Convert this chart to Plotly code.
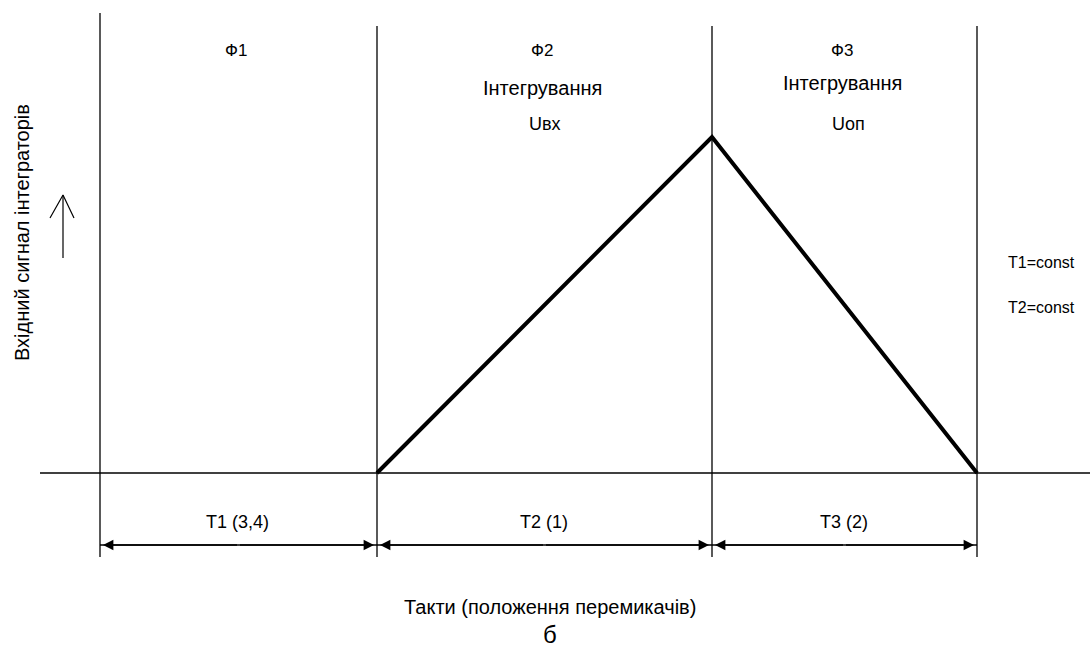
import plotly.graph_objects as go

# ---- data (time units: 1 unit = one scale division) ----
phase_bounds = [0.0, 2.77, 6.12, 8.77]          # boundaries of phases Ф1..Ф3
signal_t = [2.77, 6.12, 8.77]                    # integrator signal points
signal_v = [0.0, 3.36, 0.0]
phase_names = ["Ф1", "Ф2", "Ф3"]
phase_sub = ["", "Інтегрування", "Інтегрування"]
phase_sub2 = ["", "Uвх", "Uоп"]
tact_labels = ["T1 (3,4)", "T2 (1)", "T3 (2)"]
notes = ["T1=const", "T2=const"]

FONT = "Liberation Sans, Arial, sans-serif"
fig = go.Figure()

fig.add_trace(go.Scatter(x=signal_t, y=signal_v, mode="lines",
                         line=dict(color="black", width=4), hoverinfo="skip",
                         showlegend=False))

# arrow beside the vertical title (open arrowhead)
fig.add_trace(go.Scatter(x=[-0.37, -0.37, None, -0.50, -0.37, -0.26],
                         y=[2.15, 2.78, None, 2.55, 2.78, 2.55], mode="lines",
                         line=dict(color="black", width=1.2), hoverinfo="skip",
                         showlegend=False))

shapes = []
shapes.append(dict(type="line", x0=-0.60, x1=9.90, y0=0, y1=0,
                   line=dict(color="black", width=1.3)))
for i, b in enumerate(phase_bounds):
    top = 4.60 if i == 0 else 4.47
    shapes.append(dict(type="line", x0=b, x1=b, y0=top, y1=-0.84,
                       line=dict(color="black", width=1.3)))
shapes.append(dict(type="line", x0=phase_bounds[0], x1=phase_bounds[-1], y0=-0.72, y1=-0.72,
                   line=dict(color="black", width=1.3)))

ann = []
mids = [(phase_bounds[i] + phase_bounds[i + 1]) / 2 for i in range(3)]
sub_y = [0, 3.85, 3.90]
for i, m in enumerate(mids):
    ann.append(dict(x=m - 0.03, y=4.23, text=phase_names[i], showarrow=False,
                    font=dict(size=17, color="black", family=FONT)))
    if phase_sub[i]:
        ann.append(dict(x=m - 0.02, y=sub_y[i], text=phase_sub[i], showarrow=False,
                        font=dict(size=20, color="black", family=FONT)))
        ann.append(dict(x=m + (0.0 if i == 1 else 0.04), y=3.49, text=phase_sub2[i], showarrow=False,
                        font=dict(size=18, color="black", family=FONT)))
    ann.append(dict(x=m - 0.01, y=-0.49, text=tact_labels[i], showarrow=False,
                    font=dict(size=18, color="black", family=FONT)))
    for (tip, tail) in [(phase_bounds[i + 1] - 0.03, m), (phase_bounds[i] + 0.03, m)]:
        ann.append(dict(x=tip, y=-0.72, ax=tail, ay=-0.72, axref="x", ayref="y",
                        xref="x", yref="y", text="", showarrow=True,
                        arrowhead=2, arrowsize=1.6, arrowwidth=1.3, arrowcolor="black"))

for j, n in enumerate(notes):
    ann.append(dict(x=9.41, y=2.11 - 0.45 * j, text=n, showarrow=False,
                    font=dict(size=16, color="black", family=FONT)))

ann.append(dict(x=4.50, y=-1.34, text="Такти (положення перемикачів)", showarrow=False,
                font=dict(size=20, color="black", family=FONT)))
ann.append(dict(x=4.50, y=-1.61, text="б", showarrow=False,
                font=dict(size=24, color="black", family=FONT)))
ann.append(dict(x=-0.78, y=2.40, text="Вхідний сигнал інтеграторів", showarrow=False, textangle=-90,
                font=dict(size=20, color="black", family=FONT)))

fig.update_layout(
    width=1092, height=647,
    margin=dict(l=0, r=0, t=0, b=0),
    paper_bgcolor="white", plot_bgcolor="white",
    xaxis=dict(range=[-1.00, 9.92], visible=False, fixedrange=True),
    yaxis=dict(range=[-1.74, 4.73], visible=False, fixedrange=True),
    shapes=shapes, annotations=ann, showlegend=False,
)
fig.write_html("out.html", config={"displayModeBar": False},
               post_script="document.body.style.margin='0px';")
